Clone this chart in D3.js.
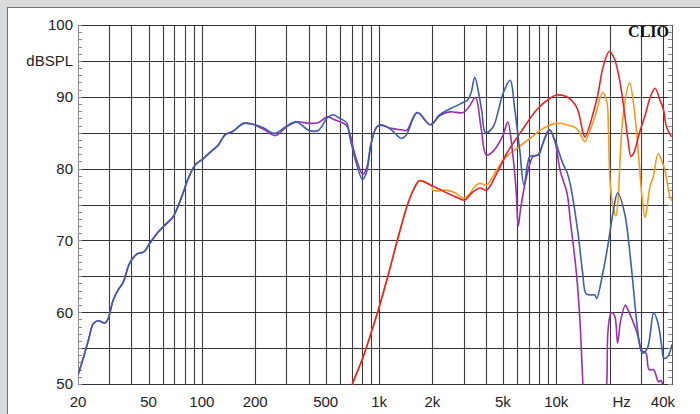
<!DOCTYPE html>
<html><head><meta charset="utf-8">
<script src="https://cdn.jsdelivr.net/npm/d3@7"></script>
<style>html,body{margin:0;padding:0;background:#d9d9d9;}svg{display:block;}</style>
</head><body><svg id="c" width="700" height="414"></svg>
<script>
// ---- data (frequency Hz, level dBSPL) ----
const blueF = [20,21,22.9,24.4,26,28.4,29.6,31.6,33.7,36,39.1,42.9,47,50.8,56.9,63.5,68.9,77,83.7,91.7,102,114,124,135,150,172,192,222,258,300,341,404,453,512,549,601,655,684,740,806,850,902,970,1030,1173,1336,1427,1640,1950,2201,2506,2980,3150,3300,3470,3650,3800,3990,4400,4700,5015,5493,5810,6222,6580,7100,7600,8000,8400,9150,9800,10900,11500,12000,13200,14100,14700,15500,16500,16900,18300,19500,20900,22200,24300,26400,28100,29300,30600,32700,35500,37500,39500,40500,42500,45000];
const blueV = [51.3,52.9,56.1,58.4,58.8,58.5,59.1,61.7,63.1,64.2,66.8,68.1,68.4,69.6,71.2,72.4,73.3,76.1,78.6,80.5,81.4,82.5,83.3,84.7,85.2,86.3,86.2,85.7,84.9,85.9,86.5,85.3,85.3,87.1,87.5,87.0,86.4,84.4,81.0,78.5,79.5,83.5,85.8,86.1,85.4,84.2,84.7,87.8,86.1,87.5,88.3,89.2,89.5,90.5,92.7,90.5,88.0,85.0,85.8,88.0,90.5,92.3,88.6,82.6,77.7,81.7,81.8,82.0,83.5,85.4,84.0,80.7,79.5,77.8,71.4,65.4,62.6,62.4,62.4,61.9,65.4,69.1,73.8,76.6,73.8,66.8,59.9,56.1,54.3,55.0,59.9,58.5,55.0,53.6,53.8,55.5];

const purpleF = [20,21,22.9,24.4,26,28.4,29.6,31.6,33.7,36,39.1,42.9,47,50.8,56.9,63.5,68.9,77,83.7,91.7,102,114,124,135,150,172,192,222,260,300,341,404,453,512,560,655,690,740,810,850,902,970,1030,1173,1336,1427,1640,1950,2201,2506,2980,3200,3500,3750,4034,4400,5015,5320,5700,5950,6100,6300,6800,7400,7900,8400,9150,9900,10500,11500,12000,13000,13600,14100,14500,18500,19300,19600,20400,21300,22200,23100,24600,25200,26900,28600,30300,32100,33400,35400,37800,39000,40500,42000];
const purpleV = [51.3,52.9,56.1,58.4,58.8,58.5,59.1,61.7,63.1,64.2,66.8,68.1,68.4,69.6,71.2,72.4,73.3,76.1,78.6,80.5,81.4,82.5,83.3,84.7,85.2,86.3,86.2,85.5,84.6,85.8,86.5,86.3,86.4,87.2,86.8,86.0,84.5,81.5,79.2,80.0,83.5,85.8,86.0,85.6,85.4,85.3,87.8,86.1,87.4,87.9,87.8,88.5,89.9,86.0,81.9,82.4,84.7,86.5,81.7,76.6,72.0,74.5,78.9,81.7,81.9,83.5,85.4,83.5,79.8,76.6,72.8,65.4,58.9,50.6,45,45,50.6,57.5,59.9,59.6,55.7,58.9,61.0,60.5,58.9,57.1,54.7,54.3,52.0,52.0,50.3,50.5,49.0,47.0];

const redF = [700,710,814,990,1118,1271,1458,1584,1686,1985,2285,2796,3040,3330,3714,4040,4610,5250,6240,7760,9220,10050,11450,13000,14200,14500,16900,18400,19900,21200,22800,24200,25400,26400,27500,29500,31800,34000,36100,38500,40300,41900,44800];
const redV = [49.5,50.1,53.8,60.3,64.9,70.1,75.2,77.3,78.3,77.6,76.9,75.9,75.6,76.6,77.3,77.0,79.3,82.1,84.9,88.2,89.8,90.25,90.0,88.6,84.9,84.4,89.55,94.2,96.3,95.4,92.3,88.0,84.0,81.7,82.3,85.0,87.5,90.0,91.2,89.5,88.2,85.8,84.4];

const orangeF = [700,710,814,990,1118,1271,1458,1584,1686,1985,2010,2200,2405,2700,2980,3200,3500,3714,4040,4610,5250,5980,7110,8450,10050,11450,13000,14200,14500,16500,18300,19300,19700,20100,21000,21700,22300,23000,24000,25900,27700,29400,30500,31700,32500,33800,35300,37600,39500,41000,43800,45000];
const orangeV = [49.5,50.1,53.8,60.3,64.9,70.1,75.2,77.3,78.3,77.6,77.0,76.9,77.0,76.6,75.9,76.3,77.6,77.95,77.7,79.8,81.7,82.8,84.2,85.6,86.3,86.1,85.6,84.0,83.75,87.2,90.6,89.3,85.4,78.4,74.5,73.4,75.5,82.0,88.0,92.0,87.7,80.7,76.0,73.2,74.5,77.5,78.9,82.1,81.0,79.8,76.1,75.5];

const xTickVals = [20,50,100,200,500,1000,2000,5000,10000,20000,40000];
const xTickText = ["20","50","100","200","500","1k","2k","5k","10k","Hz","40k"];
const yTickVals = [100,95,90,80,70,60,50];
const yTickText = ["100","dBSPL","90","80","70","60","50"];
const gridF = [30,40,50,60,70,80,90,100,200,300,400,500,600,700,800,900,1000,2000,3000,4000,5000,6000,7000,8000,9000,10000,20000,30000,40000];
const gridDB = [55,60,65,70,75,80,85,90,95];

// ---- drawing ----
const svg = d3.select("#c");
const L = 78, R = 672, T = 25, B = 384;
const x = d3.scaleLog().domain([20, 45000]).range([L, R]);
const y = d3.scaleLinear().domain([50, 100]).range([B, T]);

svg.append("rect").attr("x",0).attr("y",0).attr("width",700).attr("height",414).attr("fill","#d9dadb");
svg.append("rect").attr("x",7.5).attr("y",7.5).attr("width",720).attr("height",440)
  .attr("fill","#ffffff").attr("stroke","#707070").attr("stroke-width",1);

const g = svg.append("g");
// grid
g.selectAll("line.v").data(gridF).enter().append("line")
  .attr("x1", d => Math.round(x(d))+0.5).attr("x2", d => Math.round(x(d))+0.5)
  .attr("y1", T).attr("y2", B).attr("stroke","#3a3a3a").attr("stroke-width",1.1);
g.selectAll("line.h").data(gridDB).enter().append("line")
  .attr("y1", d => Math.round(y(d))+0.5).attr("y2", d => Math.round(y(d))+0.5)
  .attr("x1", L).attr("x2", R).attr("stroke","#333").attr("stroke-width",1.1);
// frame
g.append("line").attr("x1",L).attr("x2",R).attr("y1",T+0.5).attr("y2",T+0.5).attr("stroke","#333");
g.append("line").attr("x1",L).attr("x2",R).attr("y1",B+0.5).attr("y2",B+0.5).attr("stroke","#333");
g.append("line").attr("x1",L+0.5).attr("x2",L+0.5).attr("y1",T).attr("y2",B+1).attr("stroke","#8a8a8a");
g.append("line").attr("x1",R+0.5).attr("x2",R+0.5).attr("y1",T).attr("y2",B+1).attr("stroke","#555");
// minor ticks every 1 dB
const minor = d3.range(50, 101);
g.selectAll("line.tl").data(minor).enter().append("line")
  .attr("x1", L).attr("x2", L+4).attr("y1", d => Math.round(y(d))+0.5).attr("y2", d => Math.round(y(d))+0.5)
  .attr("stroke","#8a8a8a");
g.selectAll("line.tr").data(minor).enter().append("line")
  .attr("x1", R-4).attr("x2", R).attr("y1", d => Math.round(y(d))+0.5).attr("y2", d => Math.round(y(d))+0.5)
  .attr("stroke","#8a8a8a");

// labels
const font = "'Liberation Sans', Arial, sans-serif";
svg.selectAll("text.y").data(yTickVals).enter().append("text")
  .attr("x", L-5).attr("y", d => y(d)).attr("dy","0.36em")
  .attr("text-anchor","end").attr("font-family",font).attr("font-size",15).attr("fill","#222")
  .text((d,i) => yTickText[i]);
svg.selectAll("text.x").data(xTickVals).enter().append("text")
  .attr("x", (d,i) => x(d) + (xTickText[i]==="Hz" ? 12 : 0)).attr("y", 407)
  .attr("text-anchor","middle").attr("font-family",font).attr("font-size",15).attr("fill","#222")
  .text((d,i) => xTickText[i]);
svg.append("text").attr("x", R-3).attr("y", 37).attr("text-anchor","end")
  .attr("font-family","'Liberation Serif','Times New Roman',serif").attr("font-weight","bold")
  .attr("font-size",16).attr("fill","#111").text("CLIO");

// curves
svg.append("clipPath").attr("id","clip").append("rect").attr("x",L).attr("y",T).attr("width",R-L).attr("height",B-T+0.5);
const line = d3.line().x(d => x(d[0])).y(d => y(d[1])).curve(d3.curveCatmullRom.alpha(0.5));
const series = [
  {f: orangeF, v: orangeV, c: "#f59a1c"},
  {f: redF, v: redV, c: "#e8242a"},
  {f: purpleF, v: purpleV, c: "#9a2fb0"},
  {f: blueF, v: blueV, c: "#3b5eab"}
];
const cg = svg.append("g").attr("clip-path","url(#clip)");
series.forEach(s => {
  cg.append("path").datum(s.f.map((f,i) => [f, s.v[i]]))
    .attr("d", line).attr("fill","none").attr("stroke", s.c).attr("stroke-width",1.6)
    .attr("stroke-linejoin","round");
});
</script></body></html>
